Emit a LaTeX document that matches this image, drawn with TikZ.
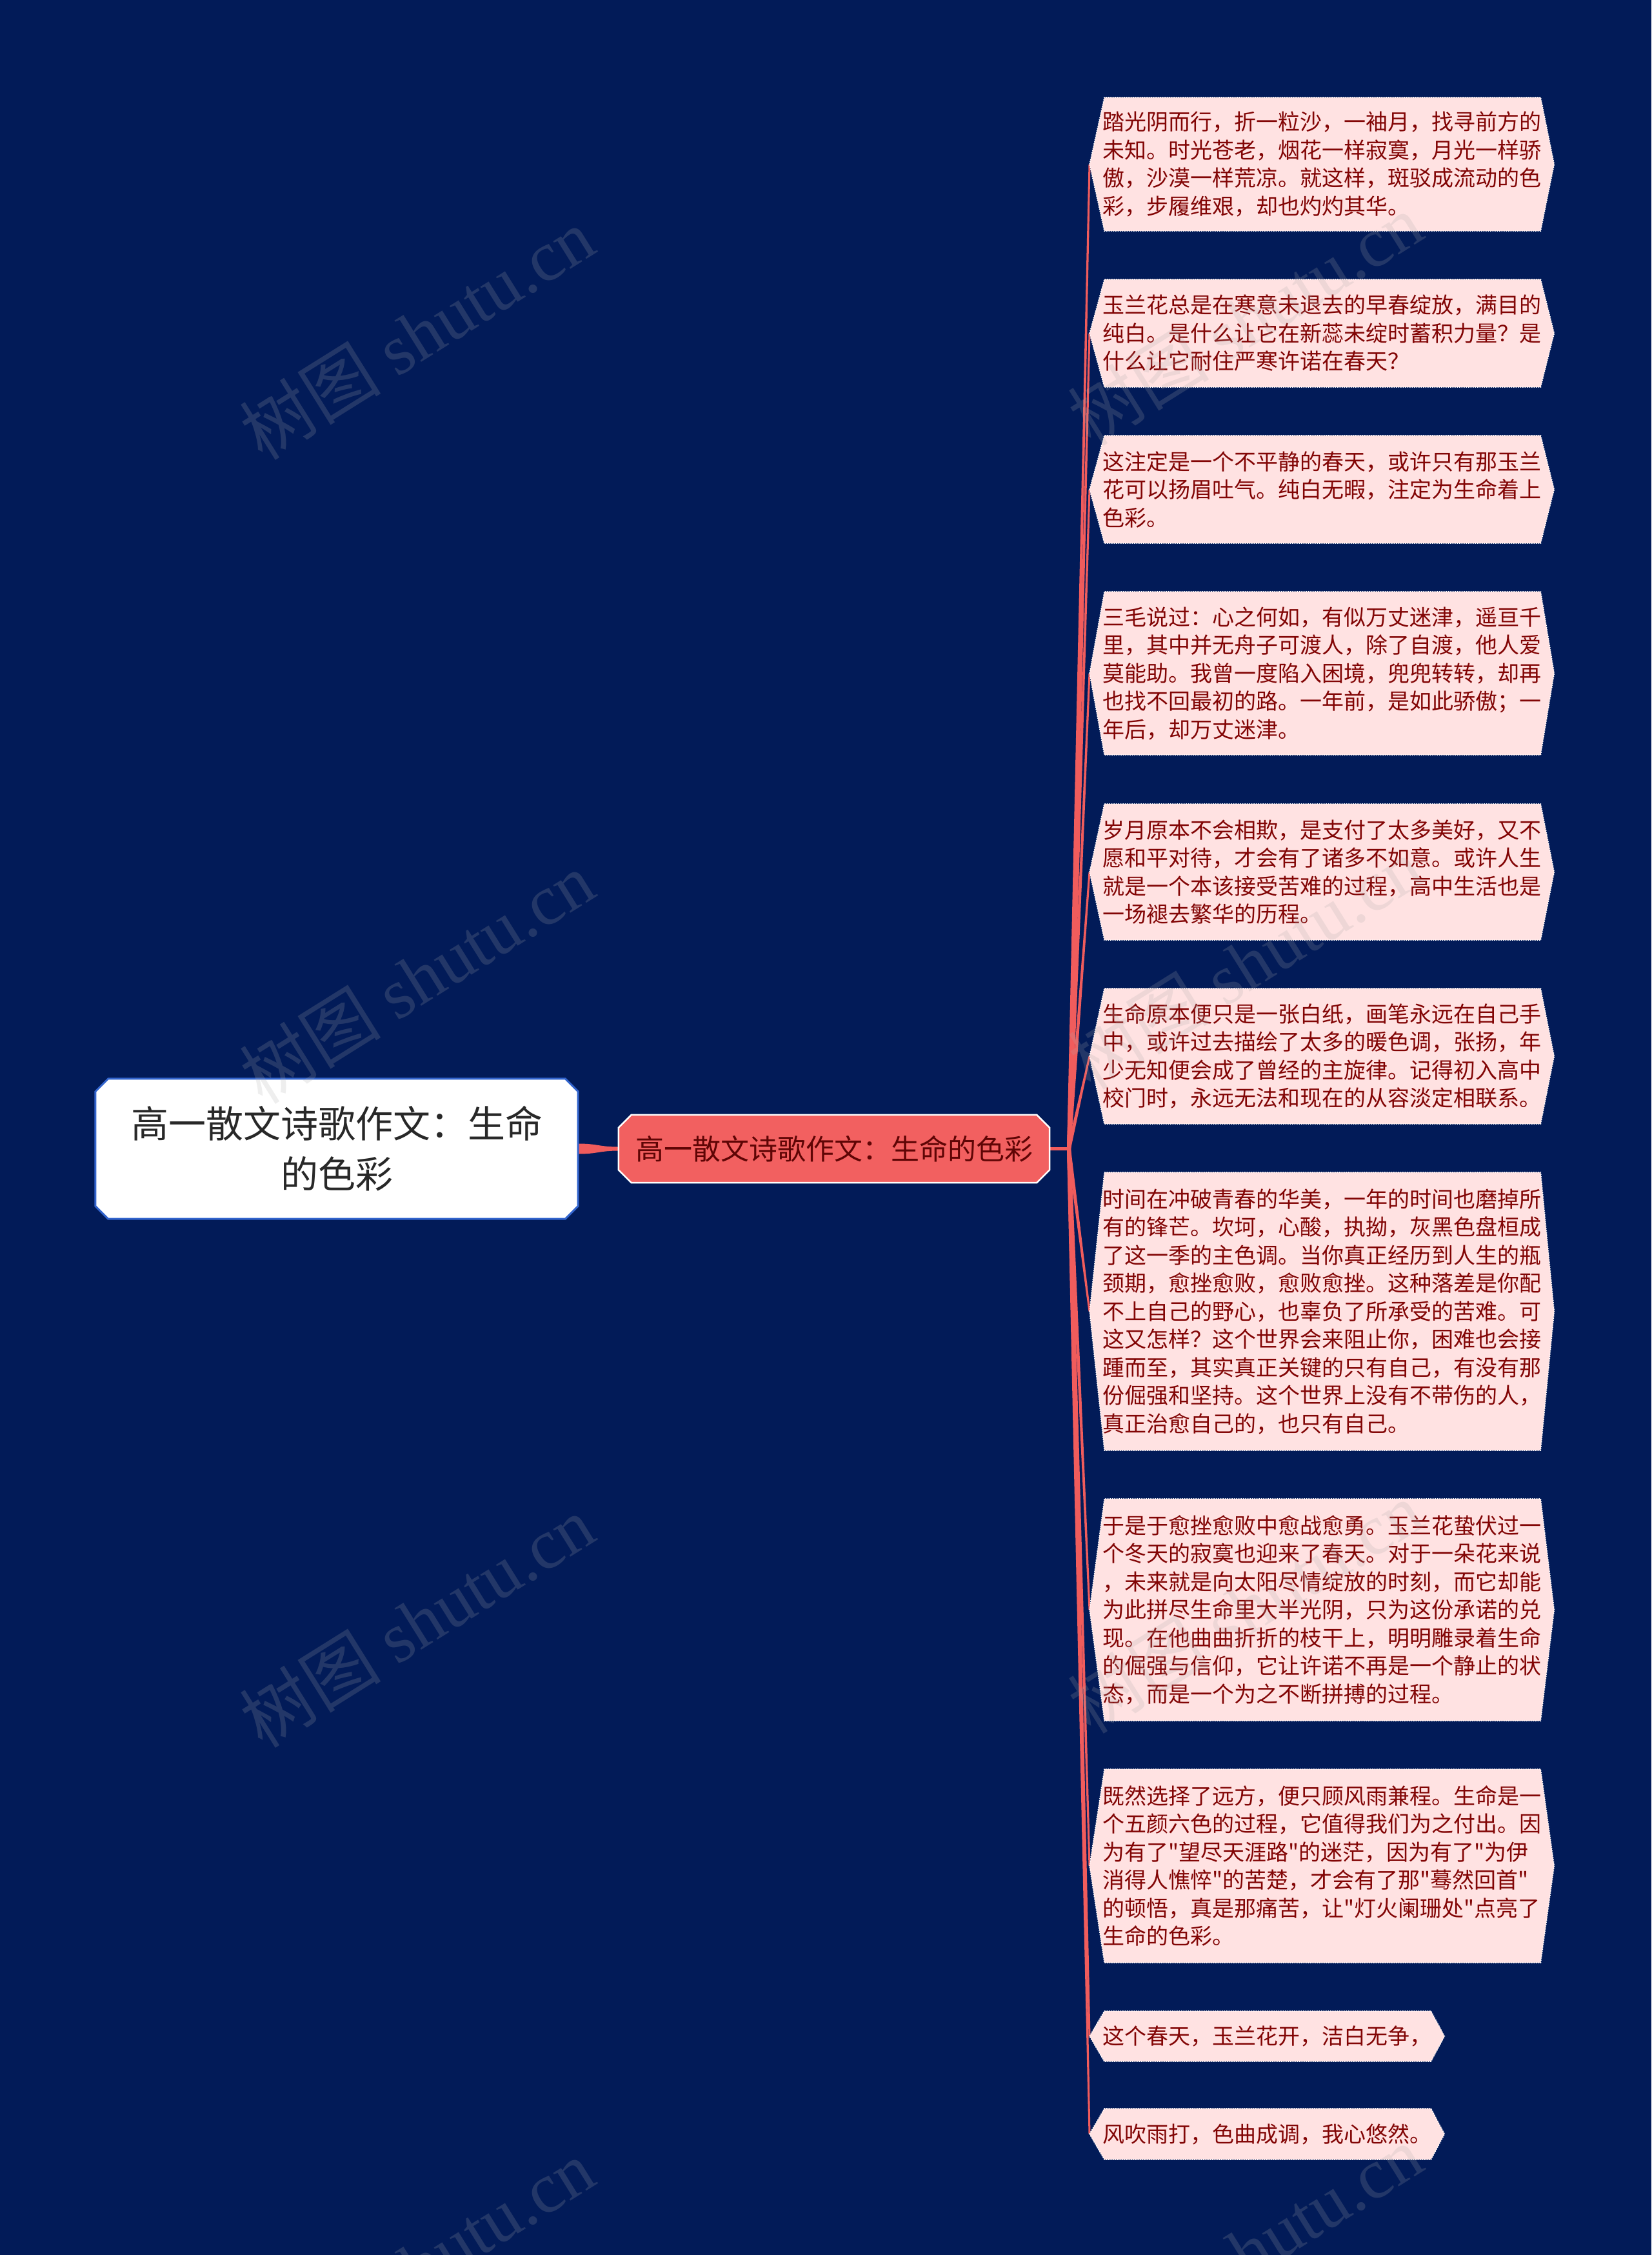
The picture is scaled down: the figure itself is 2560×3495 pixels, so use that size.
\documentclass[tikz,border=0pt]{standalone}
\usepackage{fontspec}
\setmainfont{Noto Sans CJK SC}[Ligatures=TeXOff]
\newfontfamily\wmlatin{Liberation Serif}
\usetikzlibrary{calc}
\pgfdeclarelayer{bglayer}
\pgfdeclarelayer{shapelayer}
\pgfdeclarelayer{toplayer}
\pgfsetlayers{bglayer,shapelayer,main,toplayer}

\definecolor{bgnavy}{RGB}{2,27,88}
\definecolor{leafpink}{RGB}{255,226,226}
\definecolor{leaftext}{RGB}{130,5,5}
\definecolor{linkred}{RGB}{240,92,92}
\definecolor{midfill}{RGB}{242,96,96}
\definecolor{midtext}{RGB}{95,5,5}
\definecolor{rootblue}{RGB}{50,100,205}
\definecolor{roottext}{RGB}{40,40,40}
\definecolor{wmgray}{RGB}{170,170,170}

\tikzset{
  leafnode/.style={anchor=west, inner xsep=20pt, inner ysep=0pt, text width=680pt, align=left,
    text=leaftext, font=\fontsize{34}{43.5}\selectfont},
  shortleaf/.style={anchor=west, inner xsep=20pt, inner ysep=0pt, minimum width=548pt,
    text=leaftext, font=\fontsize{34}{43.5}\selectfont},
  leafshape/.style={fill=leafpink, draw=white, dotted, line width=1.5pt},
  rootnode/.style={inner sep=0pt, minimum width=748pt, minimum height=217pt, align=center,
    text=roottext, font=\fontsize{58}{78}\selectfont},
  rootshape/.style={fill=white, draw=rootblue, line width=3pt},
  midnode/.style={inner sep=0pt, minimum width=668pt, minimum height=105pt,
    text=midtext, font=\fontsize{44}{50}\selectfont},
  midshape/.style={fill=midfill, draw=white, line width=2.5pt},
  linkline/.style={draw=linkred, line width=5pt},
  wm/.style={text=wmgray, opacity=0.2, font=\fontsize{110}{110}\selectfont, inner sep=0pt}
}

\newcommand\hexleaf[1]{\path[leafshape] (#1.west) -- ([xshift=23pt]#1.north west) -- ([xshift=-21pt]#1.north east) -- (#1.east) -- ([xshift=-21pt]#1.south east) -- ([xshift=23pt]#1.south west) -- cycle;}
\newcommand\leaflink[1]{\fill[linkred] ([xshift=-3pt]J) -- ([xshift=-1.5pt]#1.west) -- ([xshift=1.5pt]#1.west) -- ([xshift=3pt]J) -- cycle;}
\newcommand\chamf[3]{\path[#2] ([xshift=#3]#1.north west) -- ([xshift=-#3]#1.north east) -- ([yshift=-#3]#1.north east) -- ([yshift=#3]#1.south east) -- ([xshift=-#3]#1.south east) -- ([xshift=#3]#1.south west) -- ([yshift=#3]#1.south west) -- ([yshift=-#3]#1.north west) -- cycle;}

\begin{document}
\begin{tikzpicture}[x=1pt,y=-1pt]
\useasboundingbox (0,0) rectangle (2560,3495);
\begin{pgfonlayer}{bglayer}
\fill[bgnavy] (0,0) rectangle (2560,3495);
\end{pgfonlayer}

\node[rootnode] (root) at (522,1780.5) {高一散文诗歌作文：生命\\的色彩};
\node[midnode] (mid) at (1293,1780.5) {高一散文诗歌作文：生命的色彩};
\coordinate (J) at (1657,1780.5);

\node[leafnode, minimum height=207pt] (L1) at (1689,254.5) {踏光阴而行，折一粒沙，一袖月，找寻前方的\\未知。时光苍老，烟花一样寂寞，月光一样骄\\傲，沙漠一样荒凉。就这样，斑驳成流动的色\\彩，步履维艰，却也灼灼其华。};
\node[leafnode, minimum height=167pt] (L2) at (1689,516.5) {玉兰花总是在寒意未退去的早春绽放，满目的\\纯白。是什么让它在新蕊未绽时蓄积力量？是\\什么让它耐住严寒许诺在春天？};
\node[leafnode, minimum height=167pt] (L3) at (1689,758.5) {这注定是一个不平静的春天，或许只有那玉兰\\花可以扬眉吐气。纯白无暇，注定为生命着上\\色彩。};
\node[leafnode, minimum height=253pt] (L4) at (1689,1043.5) {三毛说过：心之何如，有似万丈迷津，遥亘千\\里，其中并无舟子可渡人，除了自渡，他人爱\\莫能助。我曾一度陷入困境，兜兜转转，却再\\也找不回最初的路。一年前，是如此骄傲；一\\年后，却万丈迷津。};
\node[leafnode, minimum height=211pt] (L5) at (1689,1351.5) {岁月原本不会相欺，是支付了太多美好，又不\\愿和平对待，才会有了诸多不如意。或许人生\\就是一个本该接受苦难的过程，高中生活也是\\一场褪去繁华的历程。};
\node[leafnode, minimum height=210pt] (L6) at (1689,1637) {生命原本便只是一张白纸，画笔永远在自己手\\中，或许过去描绘了太多的暖色调，张扬，年\\少无知便会成了曾经的主旋律。记得初入高中\\校门时，永远无法和现在的从容淡定相联系。};
\node[leafnode, minimum height=431pt] (L7) at (1689,2032.5) {时间在冲破青春的华美，一年的时间也磨掉所\\有的锋芒。坎坷，心酸，执拗，灰黑色盘桓成\\了这一季的主色调。当你真正经历到人生的瓶\\颈期，愈挫愈败，愈败愈挫。这种落差是你配\\不上自己的野心，也辜负了所承受的苦难。可\\这又怎样？这个世界会来阻止你，困难也会接\\踵而至，其实真正关键的只有自己，有没有那\\份倔强和坚持。这个世界上没有不带伤的人，\\真正治愈自己的，也只有自己。};
\node[leafnode, minimum height=344pt] (L8) at (1689,2495) {于是于愈挫愈败中愈战愈勇。玉兰花蛰伏过一\\个冬天的寂寞也迎来了春天。对于一朵花来说\\，未来就是向太阳尽情绽放的时刻，而它却能\\为此拼尽生命里大半光阴，只为这份承诺的兑\\现。在他曲曲折折的枝干上，明明雕录着生命\\的倔强与信仰，它让许诺不再是一个静止的状\\态，而是一个为之不断拼搏的过程。};
\node[leafnode, minimum height=300pt] (L9) at (1689,2892) {既然选择了远方，便只顾风雨兼程。生命是一\\个五颜六色的过程，它值得我们为之付出。因\\为有了"望尽天涯路"的迷茫，因为有了"为伊\\消得人憔悴"的苦楚，才会有了那"蓦然回首"\\的顿悟，真是那痛苦，让"灯火阑珊处"点亮了\\生命的色彩。};
\node[shortleaf, minimum height=78pt] (L10) at (1689,3156) {这个春天，玉兰花开，洁白无争，};
\node[shortleaf, minimum height=79pt] (L11) at (1689,3307.5) {风吹雨打，色曲成调，我心悠然。};

\begin{pgfonlayer}{shapelayer}
% connectors
\fill[linkred] ([yshift=8pt]root.east) .. controls ([xshift=30pt,yshift=8pt]root.east) and ([xshift=-30pt,yshift=3pt]mid.west) .. ([yshift=3pt]mid.west) -- ([yshift=-3pt]mid.west) .. controls ([xshift=-30pt,yshift=-3pt]mid.west) and ([xshift=30pt,yshift=-8pt]root.east) .. ([yshift=-8pt]root.east) -- cycle;
\draw[linkline] (mid.east) -- (J);
\leaflink{L1}\leaflink{L2}\leaflink{L3}\leaflink{L4}\leaflink{L5}\leaflink{L6}
\leaflink{L7}\leaflink{L8}\leaflink{L9}\leaflink{L10}\leaflink{L11}
% shapes
\chamf{root}{rootshape}{20pt}
\chamf{mid}{midshape}{20pt}
\hexleaf{L1}\hexleaf{L2}\hexleaf{L3}\hexleaf{L4}\hexleaf{L5}\hexleaf{L6}
\hexleaf{L7}\hexleaf{L8}\hexleaf{L9}\hexleaf{L10}\hexleaf{L11}
\end{pgfonlayer}

\begin{pgfonlayer}{toplayer}
\node[wm, rotate=32] (w1) at (646,517) {树图 {\wmlatin shutu.cn}};
\node[wm, rotate=32] (w2) at (646,1515) {树图 {\wmlatin shutu.cn}};
\node[wm, rotate=32] (w3) at (646,2513) {树图 {\wmlatin shutu.cn}};
\node[wm, rotate=32] (w4) at (646,3511) {树图 {\wmlatin shutu.cn}};
\node[wm, rotate=32] (w5) at (1930,495) {树图 {\wmlatin shutu.cn}};
\node[wm, rotate=32] (w6) at (1930,1493) {树图 {\wmlatin shutu.cn}};
\node[wm, rotate=32] (w7) at (1930,2491) {树图 {\wmlatin shutu.cn}};
\node[wm, rotate=32] (w8) at (1930,3489) {树图 {\wmlatin shutu.cn}};
\end{pgfonlayer}
\end{tikzpicture}
\end{document}
